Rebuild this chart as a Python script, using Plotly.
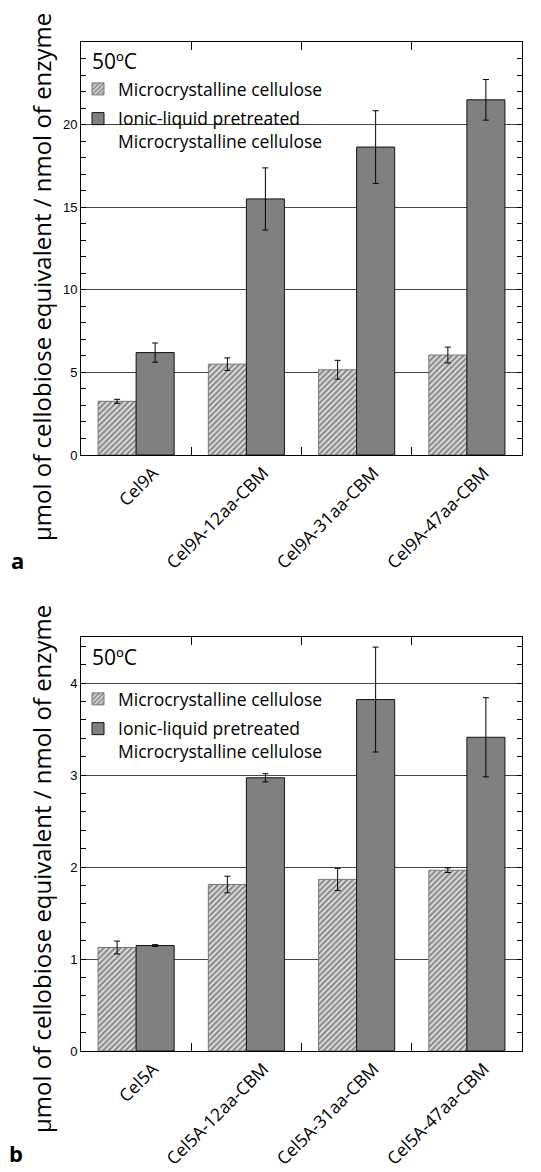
import plotly.graph_objects as go

# --- data -------------------------------------------------------------------
cel9_labels = ["Cel9A", "Cel9A-12aa-CBM", "Cel9A-31aa-CBM", "Cel9A-47aa-CBM"]
cel9_mcc = [3.25, 5.5, 5.16, 6.05]
cel9_mcc_err = [0.12, 0.38, 0.57, 0.48]
cel9_il = [6.2, 15.5, 18.64, 21.5]
cel9_il_err = [0.58, 1.88, 2.2, 1.23]
cel9_ticks = [0, 5, 10, 15, 20]

cel5_labels = ["Cel5A", "Cel5A-12aa-CBM", "Cel5A-31aa-CBM", "Cel5A-47aa-CBM"]
cel5_mcc = [1.125, 1.81, 1.865, 1.965]
cel5_mcc_err = [0.07, 0.09, 0.12, 0.025]
cel5_il = [1.146, 2.97, 3.82, 3.41]
cel5_il_err = [0.01, 0.045, 0.57, 0.43]
cel5_ticks = [0, 1, 2, 3, 4]

series_names = ["Microcrystalline cellulose",
                "Ionic-liquid pretreated<br>Microcrystalline cellulose"]
temperature_label = "50ºC"
y_title = "μmol of cellobiose equivalent / nmol of enzyme"

# --- styling ----------------------------------------------------------------
W, H = 541, 1172
TEXT_FONT = "Open Sans"
TICK_FONT = "Liberation Sans"
hatch_marker = dict(
    color="#e8e8e8",
    pattern=dict(shape="/", size=4, solidity=0.6, fgcolor="#2e2e2e",
                 bgcolor="#e9e9e9"),
    line=dict(color="#777777", width=1),
)
solid_marker = dict(color="#808080", line=dict(color="#111111", width=1))
err_style = dict(type="data", color="black", thickness=1, width=3)


def px_x(p):
    return p / W


def px_y(p):
    return 1 - p / H


fig = go.Figure()


def add_panel(labels, mcc, mcc_err, il, il_err, xa, ya, legend):
    fig.add_trace(go.Bar(
        x=labels, y=mcc, name=series_names[0], marker=hatch_marker,
        error_y=dict(array=mcc_err, **err_style), xaxis=xa, yaxis=ya,
        legend=legend, legendgroup=legend + "a"))
    fig.add_trace(go.Bar(
        x=labels, y=il, name=series_names[1], marker=solid_marker,
        error_y=dict(array=il_err, **err_style), xaxis=xa, yaxis=ya,
        legend=legend, legendgroup=legend + "b"))


add_panel(cel9_labels, cel9_mcc, cel9_mcc_err, cel9_il, cel9_il_err,
          "x", "y", "legend")
add_panel(cel5_labels, cel5_mcc, cel5_mcc_err, cel5_il, cel5_il_err,
          "x2", "y2", "legend2")

x_dom = [px_x(81), px_x(522)]

common_x = dict(
    domain=x_dom, showline=True, linecolor="black", linewidth=1,
    mirror="ticks", ticks="inside", ticklen=8, tickcolor="black",
    tickson="boundaries", tickangle=-45, showgrid=False, automargin=False,
    ticklabelshift=17, ticklabelstandoff=0,
    tickfont=dict(family=TEXT_FONT, size=17.5, color="black"),
)
common_y = dict(
    showline=True, linecolor="black", linewidth=1, mirror="ticks",
    ticks="inside", ticklen=5, tickcolor="black", tickmode="array",
    showgrid=True, gridcolor="#444444", gridwidth=1, zeroline=False,
    automargin=False,
    tickfont=dict(family=TICK_FONT, size=13, color="black"),
)

legend_common = dict(
    bgcolor="rgba(0,0,0,0)", borderwidth=0, xanchor="left", yanchor="top",
    font=dict(family=TEXT_FONT, size=17.5, color="black"), valign="top",
    traceorder="grouped", tracegroupgap=4, itemclick=False,
)

fig.update_layout(
    width=W, height=H, margin=dict(l=0, r=0, t=0, b=0, autoexpand=False),
    paper_bgcolor="white", plot_bgcolor="white",
    barmode="group", bargap=0.31, bargroupgap=0,
    showlegend=True,
    xaxis=dict(anchor="y", **common_x),
    yaxis=dict(anchor="x", domain=[px_y(455), px_y(42)], range=[0, 25],
               tickvals=cel9_ticks,
               minor=dict(tick0=0, dtick=1, ticks="inside", ticklen=5,
                          tickcolor="black"),
               **common_y),
    xaxis2=dict(anchor="y2", **common_x),
    yaxis2=dict(anchor="x2", domain=[px_y(1051), px_y(637)], range=[0, 4.5],
                tickvals=cel5_ticks,
                minor=dict(tick0=0, dtick=0.2, ticks="inside", ticklen=5,
                           tickcolor="black"),
                **common_y),
    legend=dict(x=px_x(78), y=px_y(71), **legend_common),
    legend2=dict(x=px_x(78), y=px_y(681), **legend_common),
)

annots = [
    dict(text=temperature_label, x=px_x(90), y=px_y(61), xanchor="left",
         yanchor="middle", font=dict(family=TEXT_FONT, size=21)),
    dict(text=temperature_label, x=px_x(90), y=px_y(657), xanchor="left",
         yanchor="middle", font=dict(family=TEXT_FONT, size=21)),
    dict(text=y_title, x=px_x(41), y=px_y(277), textangle=-90,
         xanchor="center", yanchor="middle",
         font=dict(family=TEXT_FONT, size=24)),
    dict(text=y_title, x=px_x(41), y=px_y(869), textangle=-90,
         xanchor="center", yanchor="middle",
         font=dict(family=TEXT_FONT, size=24)),
    dict(text="<b>a</b>", x=px_x(17), y=px_y(560), xanchor="center",
         yanchor="middle", font=dict(family=TEXT_FONT, size=22)),
    dict(text="<b>b</b>", x=px_x(16), y=px_y(1153), xanchor="center",
         yanchor="middle", font=dict(family=TEXT_FONT, size=22)),
]
for a in annots:
    a.update(xref="paper", yref="paper", showarrow=False)
    a["font"]["color"] = "black"
fig.update_layout(annotations=annots)

fig.write_html("out.html")
